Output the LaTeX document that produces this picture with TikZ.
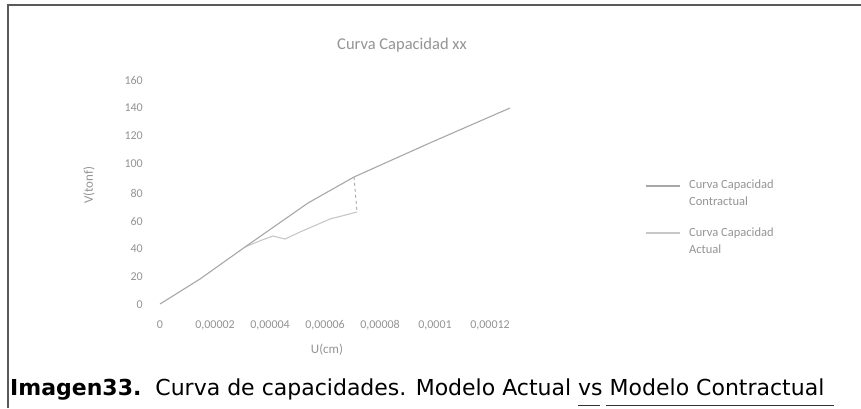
\documentclass[tikz,border=0pt]{standalone}
\usepackage{fontspec}
\setmainfont{Carlito}
\newfontfamily\capfont{DejaVu Sans}
\definecolor{framegray}{gray}{0.35}
\definecolor{labgray}{gray}{0.58}
\definecolor{curveAcol}{gray}{0.66}
\definecolor{curveBcol}{gray}{0.78}
\tikzset{
  charttitle/.style={text=labgray, font=\fontsize{16.5}{19}\selectfont, inner sep=0pt},
  ylab/.style={text=labgray, font=\fontsize{12}{14}\selectfont, anchor=east, inner sep=0pt},
  xlab/.style={text=labgray, font=\fontsize{12}{14}\selectfont, anchor=center, inner sep=0pt},
  axtitle/.style={text=labgray, font=\fontsize{13}{15}\selectfont, inner sep=0pt},
  legtext/.style={text=labgray, font=\fontsize{12.5}{17}\selectfont, anchor=west, align=left, inner sep=0pt},
  curveA/.style={draw=curveAcol, line width=1.1pt},
  curveB/.style={draw=curveBcol, line width=1.1pt},
  dropline/.style={draw=curveAcol, line width=0.9pt, dashed},
  frameline/.style={draw=framegray, line width=1.1pt},
  capline/.style={draw=black!80, line width=0.9pt}
}
\begin{document}
\begin{tikzpicture}[x=1pt,y=-1pt]
\useasboundingbox (0,0) rectangle (861,408);
\fill[white] (0,0) rectangle (861,408);
% frame
\coordinate (f1) at (8,408);
\coordinate (f2) at (8,5);
\coordinate (f3) at (861,5);
\draw[frameline] (f1) -- (f2) -- (f3);
% title
\node[charttitle] (title) at (402,45) {Curva Capacidad xx};
% y labels
\foreach \v/\yy in {0/305,20/277,40/249,60/221,80/193,100/164,120/136,140/108,160/80}
  \node[ylab] (y\v) at (143,\yy) {\v};
% x labels
\foreach \i/\t in {0/0,1/{0,00002},2/{0,00004},3/{0,00006},4/{0,00008},5/{0,0001},6/{0,00012}}
  \node[xlab] (x\i) at ({160+55*\i},325) {\t};
% axis titles
\node[axtitle, rotate=90] (vt) at (89,185) {V(tonf)};
\node[axtitle] (ut) at (327,350) {U(cm)};
% curves
\coordinate (o) at (160,304);
\coordinate (a1) at (200,279);
\coordinate (a2) at (245,247);
\coordinate (a3) at (308,203);
\coordinate (a4) at (354,177);
\coordinate (a5) at (432,142);
\coordinate (a6) at (510,108);
\coordinate (b1) at (262,240);
\coordinate (b2) at (273,236);
\coordinate (b3) at (285,239);
\coordinate (b4) at (300,232);
\coordinate (b5) at (330,219);
\coordinate (b6) at (357,212);
\draw[curveB] (a2) -- (b1) -- (b2) -- (b3) -- (b4) -- (b5) -- (b6);
\draw[curveA] (o) -- (a1) -- (a2) -- (a3) -- (a4) -- (a5) -- (a6);
\draw[dropline] (a4) -- (b6);
% legend
\coordinate (l1a) at (646,186);
\coordinate (l1b) at (680,186);
\coordinate (l2a) at (646,233);
\coordinate (l2b) at (680,233);
\draw[curveA] (l1a) -- (l1b);
\draw[curveB] (l2a) -- (l2b);
\node[legtext] (leg1) at (689,193) {Curva Capacidad\\Contractual};
\node[legtext] (leg2) at (689,241) {Curva Capacidad\\Actual};
% caption
\node[anchor=base west, inner sep=0pt, font=\capfont\fontsize{22}{24}\selectfont] (cap) at (10,395)
  {\textbf{Imagen33.}\ \ Curva de capacidades. Modelo Actual vs Modelo Contractual};
\coordinate (u1) at (578,405);
\coordinate (u2) at (600,405);
\coordinate (u3) at (606,405);
\coordinate (u4) at (834,405);
\draw[capline] (u1) -- (u2);
\draw[capline] (u3) -- (u4);
\end{tikzpicture}
\end{document}
